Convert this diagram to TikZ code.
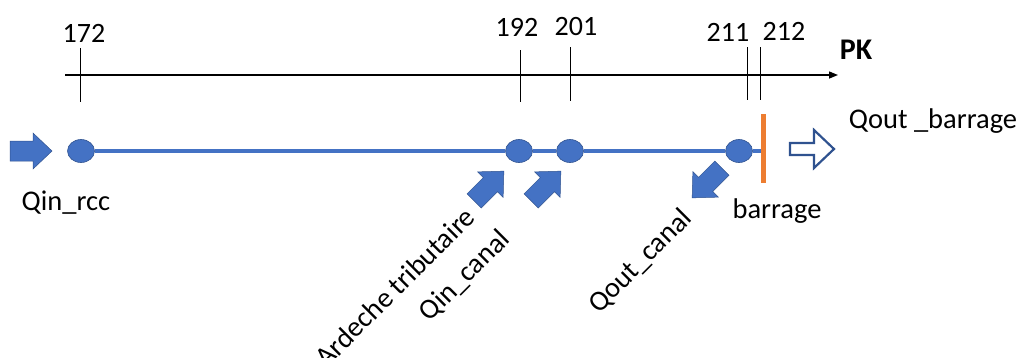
\documentclass[tikz,border=0pt]{standalone}
\usepackage{fontspec}
\setmainfont{Carlito}
\usetikzlibrary{arrows.meta,shapes.geometric}
\definecolor{accblue}{HTML}{4472C4}
\definecolor{darkblue}{HTML}{2F528F}
\definecolor{accorange}{HTML}{ED7D31}
\begin{document}
\begin{tikzpicture}[x=1pt,y=1pt,
  lbl/.style={font=\fontsize{28.5}{32}\selectfont, inner sep=0pt},
  num/.style={font=\fontsize{28}{32}\selectfont, inner sep=0pt},
  tick/.style={draw=black, line width=1pt},
  station/.style={ellipse, fill=accblue, draw=darkblue, line width=0.6pt, minimum width=27pt, minimum height=23pt, inner sep=0pt},
  river/.style={draw=accblue, line width=3.5pt},
  blockarrow/.pic={\path[pic actions] (-21,-10)--(2,-10)--(2,-18)--(21,0)--(2,18)--(2,10)--(-21,10)--cycle;},
  openarrow/.pic={\path[pic actions] (-22,-6)--(2,-6)--(2,-19)--(22,0)--(2,19)--(2,6)--(-22,6)--cycle;}
]
\useasboundingbox (0,0) rectangle (1019,-357);
% axis
\coordinate (axs) at (65,-75);
\coordinate (axe) at (838,-75);
\draw[line width=1.4pt, -{Triangle[length=9pt,width=7pt]}] (axs) -- (axe);
\node[font=\fontsize{30}{34}\selectfont\bfseries, inner sep=0pt] (pk) at (856,-50) {PK};
% ticks
\foreach \nm/\x/\t/\b in {t172/80/48/102, t192/520/50/102, t201/570/47/101, t211/747/47/100, t212/760/47/100}{
  \coordinate (\nm a) at (\x,-\t);
  \coordinate (\nm b) at (\x,-\b);
  \draw[tick] (\nm a) -- (\nm b);
}
\node[num] (n172) at (84,-33) {172};
\node[num] (n192) at (517,-27) {192};
\node[num] (n201) at (576,-27) {201};
\node[num] (n211) at (728,-32) {211};
\node[num] (n212) at (784,-31) {212};
% river
\node[station] (s172) at (81,-151) {};
\node[station] (s192) at (519,-151) {};
\node[station] (s201) at (570,-151) {};
\node[station] (s211) at (739,-151) {};
\coordinate (dam) at (763,-151);
\draw[river] (s172) -- (s192) -- (s201) -- (s211) -- (dam);
% barrage
\coordinate (bt) at (763,-114);
\coordinate (bb) at (763,-183);
\draw[draw=accorange, line width=5pt] (bt) -- (bb);
% arrows
\pic[fill=accblue, draw=darkblue, line width=0.5pt] at (31,-151) {blockarrow};
\pic[fill=accblue, draw=darkblue, line width=0.5pt, rotate=45] at (489,-186) {blockarrow};
\pic[fill=accblue, draw=darkblue, line width=0.5pt, rotate=45] at (546,-186) {blockarrow};
\pic[fill=accblue, draw=darkblue, line width=0.5pt, rotate=225] at (707,-183) {blockarrow};
\pic[fill=white, draw=darkblue, line width=2.2pt] at (812,-149) {openarrow};
% labels
\node[lbl] (qinrcc) at (66,-203) {Qin\_rcc};
\node[lbl] (barr) at (777,-211) {barrage};
\node[lbl] (qoutb) at (933,-121) {Qout \_barrage};
\node[lbl, rotate=45, anchor=east] (arde) at (470,-212) {Ardeche tributaire};
\node[lbl, rotate=45, anchor=east] (qinc) at (506,-235) {Qin\_canal};
\node[lbl, rotate=45, anchor=east] (qoutc) at (688,-214) {Qout\_canal};
\end{tikzpicture}
\end{document}
